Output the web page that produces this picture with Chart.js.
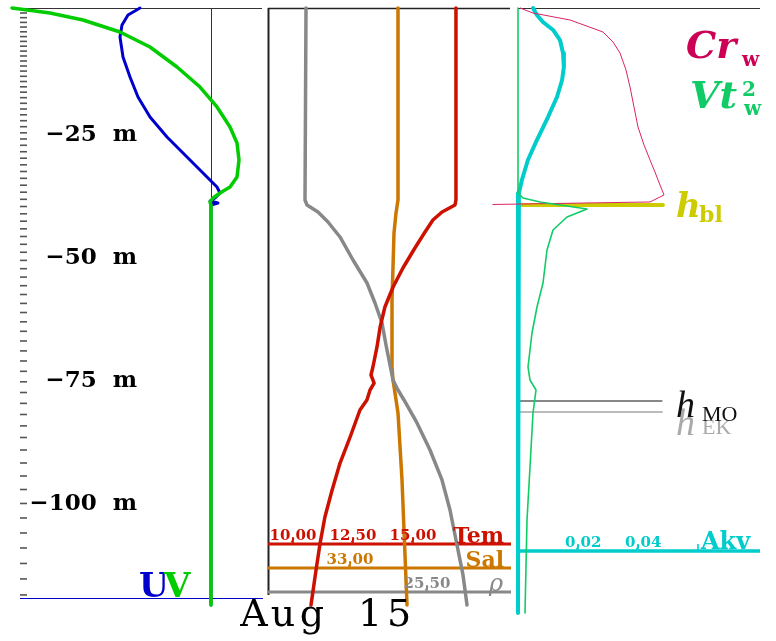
<!DOCTYPE html>
<html>
<head>
<meta charset="utf-8">
<title>Profiles Aug 15</title>
<script src="https://cdn.jsdelivr.net/npm/chart.js@4.4.1/dist/chart.umd.min.js"></script>
<style>
html,body{margin:0;padding:0;background:#fff;overflow:hidden;}
canvas{display:block;}
</style>
</head>
<body>
<canvas id="prof" width="776" height="641"></canvas>
<script>
// Model level depths (m), marked as ticks along the depth axis
const levelDepths = [1.02, 1.97, 2.93, 3.88, 4.84, 5.82, 6.79, 7.77, 8.77, 9.76,
  10.78, 11.80, 12.83, 13.89, 14.95, 16.03, 17.12, 18.24, 19.38, 20.54,
  21.72, 22.92, 24.14, 25.38, 26.64, 27.92, 29.23, 30.55, 31.89, 33.25,
  34.64, 36.04, 37.46, 38.91, 40.37, 41.85, 43.36, 44.91, 46.47, 48.06,
  49.68, 51.33, 53.02, 54.73, 56.48, 58.27, 60.08, 61.93, 63.82, 65.75,
  67.72, 69.74, 71.79, 73.89, 76.02, 78.20, 80.41, 82.67, 84.99, 87.35,
  89.89, 92.54, 95.18, 97.93, 100.77, 103.72, 106.77, 109.82, 112.97, 116.12, 119.37];
const depthLabels = [25, 50, 75, 100];

// Horizontal current components (m/s)
const uDepth = [0, 1.42, 3.46, 5.90, 9.97, 14.03, 18.10, 22.17, 26.24, 30.30, 33.56, 36.40, 37.62, 38.64, 39.25, 39.66, 40.07, 121.4];
const uVal   = [-0.071, -0.083, -0.089, -0.091, -0.088, -0.081, -0.073, -0.061, -0.044, -0.024, -0.008, 0.006, 0.009, 0.004, -0.001, 0.007, 0.0, 0.0];
const vDepth = [0, 1.02, 2.44, 4.88, 7.93, 12.0, 16.07, 20.13, 24.2, 27.46, 30.91, 34.37, 36.4, 37.62, 38.64, 39.45, 40.07, 121.4];
const vVal   = [-0.199, -0.161, -0.128, -0.091, -0.061, -0.034, -0.011, 0.006, 0.019, 0.026, 0.028, 0.026, 0.019, 0.009, 0.002, -0.001, 0.0, 0.0];

// Temperature (deg C)
const temDepth = [0, 39.05, 40.07, 41.49, 43.12, 45.56, 48.81, 52.88, 56.74, 60.81, 64.88, 68.94, 73.01, 74.64, 76.27, 77.69, 79.72, 81.76, 87.25, 92.54, 98.03, 103.52, 108.81, 114.3, 121.42];
const temVal   = [16.79, 16.79, 16.75, 16.21, 15.83, 15.5, 15.08, 14.58, 14.17, 13.83, 13.63, 13.5, 13.33, 13.25, 13.38, 13.21, 13.08, 12.79, 12.38, 11.96, 11.63, 11.33, 11.13, 10.96, 10.75];

// Salinity
const salDepth = [0, 39.05, 41.69, 45.76, 52.67, 59.39, 66.10, 73.01, 75.66, 78.30, 82.37, 95.99, 106.16, 121.42];
const salVal   = [33.12, 33.12, 33.115, 33.11, 33.1075, 33.105, 33.105, 33.105, 33.1075, 33.1125, 33.12, 33.13, 33.135, 33.1425];

// Density anomaly (kg/m3)
const rhoDepth = [0, 39.05, 40.07, 41.49, 43.52, 46.57, 51.25, 55.93, 60.0, 64.06, 68.54, 72.61, 75.66, 77.69, 79.72, 84.40, 89.89, 95.99, 102.1, 109.21, 115.31, 121.42];
const rhoVal   = [24.895, 24.89, 24.9, 24.955, 25.005, 25.065, 25.13, 25.2, 25.24, 25.275, 25.295, 25.315, 25.33, 25.355, 25.385, 25.45, 25.515, 25.575, 25.615, 25.65, 25.68, 25.7];

// Vertical viscosity Akv (m2/s)
const akvDepth = [0, 1.42, 2.85, 4.47, 6.51, 9.15, 12.0, 14.64, 18.1, 22.17, 26.85, 30.91, 34.98, 37.62, 40.47, 123.04];
const akvVal   = [0.005, 0.0063, 0.0083, 0.0117, 0.014, 0.015, 0.0153, 0.0147, 0.013, 0.010, 0.0063, 0.0033, 0.0013, 0.0003, 0.0, 0.0];

// Bulk Richardson criterion terms Cr_w and Vt2_w
const crDepth = [0, 1.02, 2.44, 4.88, 6.91, 9.15, 12.61, 16.07, 20.13, 24.2, 27.86, 30.91, 33.35, 34.98, 37.01, 38.03, 39.45, 39.96];
const crVal   = [0.002, 0.015, 0.052, 0.085, 0.095, 0.102, 0.108, 0.112, 0.116, 0.120, 0.126, 0.132, 0.137, 0.140, 0.144, 0.146, 0.132, -0.025];
const vt2Depth = [0, 37.62, 38.64, 39.45, 40.88, 42.51, 45.15, 49.22, 55.93, 60.81, 66.1, 73.01, 75.66, 77.69, 82.37, 93.35, 104.13, 123.04];
const vt2Val   = [0, 0, 0.005, 0.022, 0.069, 0.049, 0.035, 0.029, 0.025, 0.019, 0.014, 0.010, 0.012, 0.018, 0.015, 0.012, 0.009, 0.007];

// Boundary-layer, Monin-Obukhov and Ekman depths (m)
const hBL = 40.07;
const hMO = 79.93;
const hEK = 82.16;

// Axis tick values
const temTicks = [10, 12.5, 15];
const salTicks = [33];
const rhoTicks = [25.5];
const akvTicks = [0.02, 0.04, 0.06];

function profile(label, depths, vals, xid, color, width, order) {
  return {
    label, xAxisID: xid, yAxisID: 'y',
    data: depths.map((d, i) => ({ x: vals[i], y: d })),
    showLine: true, borderColor: color, backgroundColor: color,
    borderWidth: width, pointRadius: 0, tension: 0, fill: false,
    order, clip: false, borderJoinStyle: 'round', borderCapStyle: 'round'
  };
}
function depthLine(label, depth, xid, x1, color, width, order) {
  return profile(label, [depth, depth], [0, x1], xid, color, width, order);
}

const SERIF = '"DejaVu Serif", "Liberation Serif", serif';
const TIMES = '"Liberation Serif", "DejaVu Serif", serif';

function hline(ctx, x1, x2, y, color, w) {
  ctx.beginPath(); ctx.strokeStyle = color; ctx.lineWidth = w;
  ctx.moveTo(x1, y); ctx.lineTo(x2, y); ctx.stroke();
}
function vline(ctx, x, y1, y2, color, w) {
  ctx.beginPath(); ctx.strokeStyle = color; ctx.lineWidth = w;
  ctx.moveTo(x, y1); ctx.lineTo(x, y2); ctx.stroke();
}
function text(ctx, str, x, y, font, color, align) {
  ctx.font = font; ctx.fillStyle = color;
  ctx.textAlign = align || 'left'; ctx.textBaseline = 'alphabetic';
  ctx.fillText(str, x, y);
}
// tick label placed so that its decimal comma sits on the tick
function commaLabel(ctx, value, x, y, font, color) {
  const str = value.toFixed(2).replace('.', ',');
  ctx.font = font;
  const i = str.indexOf(',');
  const pre = ctx.measureText(str.slice(0, i)).width;
  const cw = ctx.measureText(',').width;
  text(ctx, str, x - pre - cw / 2, y, font, color, 'left');
}

// axis baselines (pixel rows) of the scale bars
const AX = { tem: 544, sal: 568, rho: 592, akv: 551, uv: 598 };

const decor = {
  id: 'decor',
  beforeDatasetsDraw(chart) {
    const ctx = chart.ctx, s = chart.scales;
    ctx.save();
    // top edges of the three panels
    hline(ctx, 20, 262, 8.5, '#333', 1);
    hline(ctx, 268, 510, 8.5, '#222', 1.6);
    hline(ctx, 518, 760, 8.5, '#333', 1);
    // left edge of the water-column panel
    vline(ctx, 268.5, 8, 595, '#222', 2);
    // zero line of the current panel
    const x0 = Math.round(s.xU.getPixelForValue(0)) + 0.5;
    vline(ctx, x0, 8, AX.uv, '#333', 1);
    // model level ticks
    levelDepths.forEach(d => {
      const y = s.y.getPixelForValue(d);
      hline(ctx, 20, 27, y, '#555', 1.6);
    });
    // scale bars
    hline(ctx, 20, 263, AX.uv + 0.5, '#0000cc', 1);
    hline(ctx, 268, 511, AX.tem, '#cc1100', 3);
    hline(ctx, 268, 511, AX.sal, '#cc7700', 3);
    hline(ctx, 268, 511, AX.rho, '#888888', 3);
    hline(ctx, 518, 760, AX.akv, '#00cccc', 3.5);
    // tick marks on the scale bars
    temTicks.forEach(v => vline(ctx, s.xT.getPixelForValue(v), AX.tem - 7, AX.tem, '#cc1100', 1.6));
    salTicks.forEach(v => vline(ctx, s.xS.getPixelForValue(v), AX.sal - 7, AX.sal, '#cc7700', 1.6));
    rhoTicks.forEach(v => vline(ctx, s.xR.getPixelForValue(v), AX.rho - 7, AX.rho, '#888888', 1.6));
    akvTicks.forEach(v => vline(ctx, s.xA.getPixelForValue(v), AX.akv - 7, AX.akv, '#00cccc', 1.6));
    ctx.restore();
  },
  afterDatasetsDraw(chart) {
    const ctx = chart.ctx, s = chart.scales;
    ctx.save();
    // depth labels
    depthLabels.forEach(d => {
      const y = s.y.getPixelForValue(d);
      text(ctx, '\u2212' + d + '  m', 137, y + 10, 'bold 23px ' + SERIF, '#000', 'right');
    });
    // scale bar labels
    const tickFont = 'bold 15px ' + SERIF;
    temTicks.forEach(v => commaLabel(ctx, v, s.xT.getPixelForValue(v), AX.tem - 4, tickFont, '#cc1100'));
    salTicks.forEach(v => commaLabel(ctx, v, s.xS.getPixelForValue(v), AX.sal - 4, tickFont, '#cc7700'));
    rhoTicks.forEach(v => commaLabel(ctx, v, s.xR.getPixelForValue(v), AX.rho - 4, tickFont, '#888888'));
    akvTicks.filter(v => v < 0.05).forEach(v => commaLabel(ctx, v, s.xA.getPixelForValue(v), AX.akv - 4, tickFont, '#00cccc'));
    text(ctx, 'Tem', 504, AX.tem - 1, 'bold 22px ' + SERIF, '#cc1100', 'right');
    text(ctx, 'Sal', 504, AX.sal - 1, 'bold 22px ' + SERIF, '#cc7700', 'right');
    text(ctx, '\u03c1', 503, AX.rho - 1, 'italic 24px ' + SERIF, '#888888', 'right');
    text(ctx, 'Akv', 701, AX.akv - 2, 'bold 24px ' + SERIF, '#00cccc', 'left');
    // current component names
    text(ctx, 'U', 139, 597, 'bold 34px ' + SERIF, '#0000cc', 'left');
    text(ctx, 'V', 164, 597, 'bold 34px ' + SERIF, '#00cc00', 'left');
    // turbulence term names
    text(ctx, 'Cr', 686, 58, 'bold italic 38px ' + SERIF, '#cc0055', 'left');
    text(ctx, 'w', 742, 66, 'bold 20px ' + SERIF, '#cc0055', 'left');
    text(ctx, 'Vt', 690, 108, 'bold italic 38px ' + SERIF, '#11cc66', 'left');
    text(ctx, '2', 742, 96, 'bold 20px ' + SERIF, '#11cc66', 'left');
    text(ctx, 'w', 744, 115, 'bold 20px ' + SERIF, '#11cc66', 'left');
    // depth scale names
    text(ctx, 'h', 676, 217, 'bold italic 34px ' + SERIF, '#cccc00', 'left');
    text(ctx, 'bl', 699, 222, 'bold 22px ' + SERIF, '#cccc00', 'left');
    text(ctx, 'h', 676, 435, 'italic 38px ' + TIMES, '#aaaaaa', 'left');
    text(ctx, 'EK', 702, 434, '22px ' + TIMES, '#aaaaaa', 'left');
    text(ctx, 'h', 676, 417, 'italic 38px ' + TIMES, '#111111', 'left');
    text(ctx, 'MO', 702, 421, '22px ' + TIMES, '#111111', 'left');
    // date
    const date = 'Aug 15';
    ctx.font = '38px ' + SERIF; ctx.fillStyle = '#000'; ctx.textAlign = 'center'; ctx.textBaseline = 'alphabetic';
    for (let i = 0; i < date.length; i++) ctx.fillText(date[i], 254 + i * 29, 626);
    ctx.restore();
  }
};

new Chart(document.getElementById('prof'), {
  type: 'scatter',
  data: {
    datasets: [
      profile('V', vDepth, vVal, 'xU', '#00cc00', 3.5, 1),
      profile('U', uDepth, uVal, 'xU', '#0000cc', 3, 2),
      profile('Tem', temDepth, temVal, 'xT', '#cc1100', 3.5, 3),
      profile('rho', rhoDepth, rhoVal, 'xR', '#888888', 3.5, 4),
      profile('Sal', salDepth, salVal, 'xS', '#cc7700', 3.5, 5),
      profile('Vt2_w', vt2Depth, vt2Val, 'xW', '#11cc66', 1.6, 6),
      profile('Cr_w', crDepth, crVal, 'xC', '#dd2266', 1, 7),
      profile('Akv', akvDepth, akvVal, 'xA', '#00cccc', 4, 8),
      depthLine('h_bl', hBL, 'xA', 0.0483, '#cccc00', 4, 9),
      depthLine('h_MO', hMO, 'xA', 0.048, '#111111', 1, 10),
      depthLine('h_EK', hEK, 'xA', 0.048, '#bbbbbb', 2, 11)
    ]
  },
  options: {
    responsive: false,
    animation: false,
    devicePixelRatio: 1,
    events: [],
    layout: { padding: 0 },
    plugins: { legend: { display: false }, tooltip: { enabled: false }, title: { display: false } },
    scales: {
      y:  { type: 'linear', axis: 'y', position: 'left', reverse: true, min: -1.627, max: 128.74, display: false },
      xU: { type: 'linear', axis: 'x', position: 'bottom', min: -0.211, max: 0.565, display: false },
      xT: { type: 'linear', axis: 'x', position: 'bottom', min: -2.2083, max: 30.125, display: false },
      xS: { type: 'linear', axis: 'x', position: 'bottom', min: 32.125, max: 34.065, display: false },
      xR: { type: 'linear', axis: 'x', position: 'bottom', min: 23.365, max: 27.245, display: false },
      xA: { type: 'linear', axis: 'x', position: 'bottom', min: -0.172667, max: 0.086, display: false },
      xC: { type: 'linear', axis: 'x', position: 'bottom', min: -0.518, max: 0.258, display: false },
      xW: { type: 'linear', axis: 'x', position: 'bottom', min: -0.518, max: 0.258, display: false }
    }
  },
  plugins: [decor]
});
</script>
</body>
</html>
